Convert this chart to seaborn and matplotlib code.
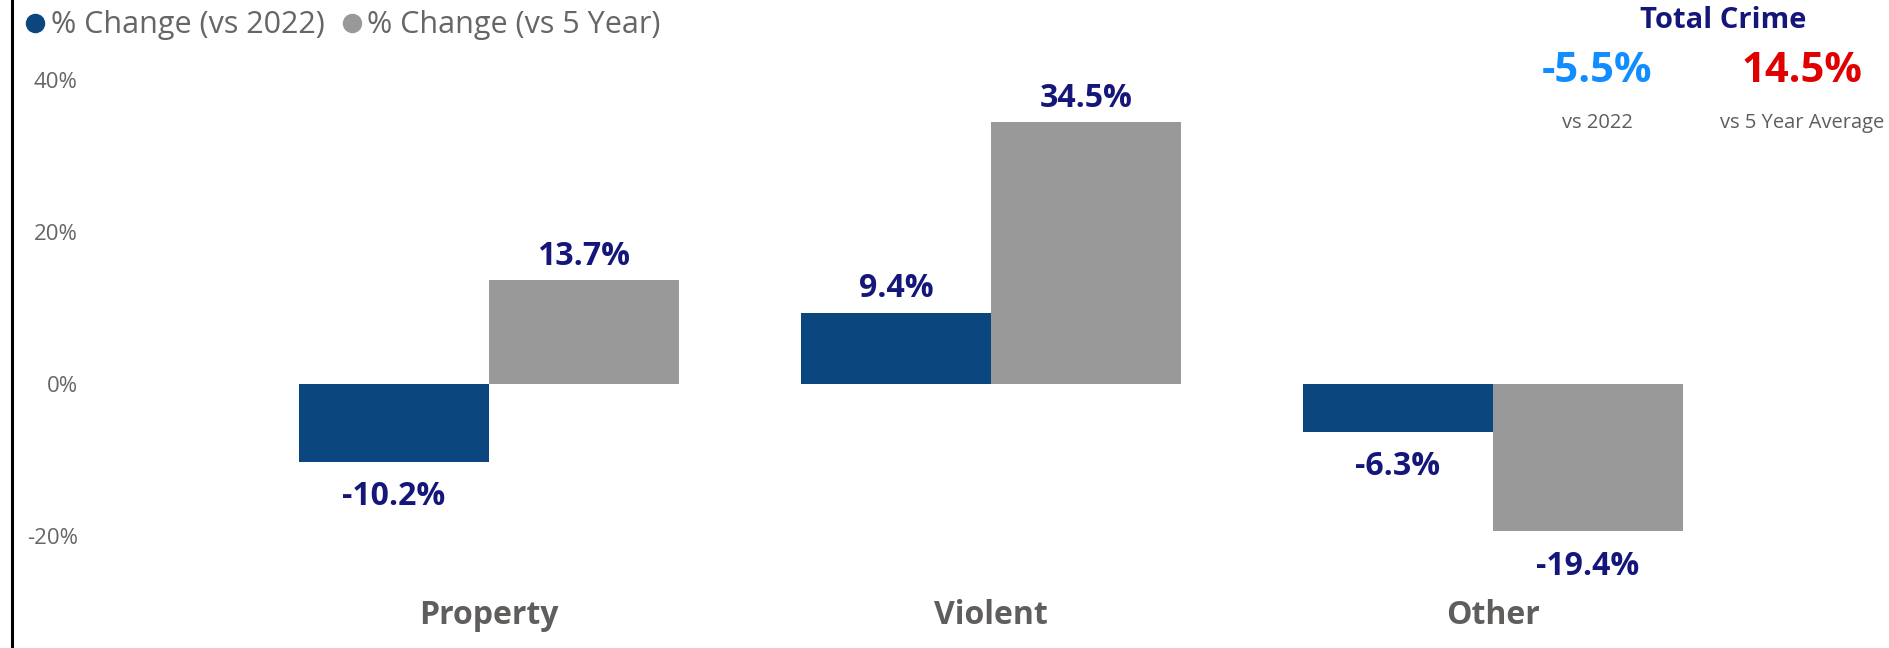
import numpy as np
import pandas as pd
import matplotlib
matplotlib.use("Agg")
import matplotlib.pyplot as plt
import seaborn as sns
from matplotlib.lines import Line2D

# ---- data ----
categories = ["Property", "Violent", "Other"]
series_names = ["% Change (vs 2022)", "% Change (vs 5 Year)"]
vs_2022 = [-10.2, 9.4, -6.3]
vs_5yr = [13.7, 34.5, -19.4]
yticks = [-20, 0, 20, 40]
ytick_labels = ["-20%", "0%", "20%", "40%"]
total_vs_2022 = "-5.5%"
total_vs_5yr = "14.5%"

BLUE = "#0B467F"
GRAY = "#999999"
NAVY = "#141779"
TXT_GRAY = "#666666"
CAT_GRAY = "#605E5C"

df = pd.DataFrame({
    "Category": categories * 2,
    "Series": [series_names[0]] * 3 + [series_names[1]] * 3,
    "Value": vs_2022 + vs_5yr,
})

sns.set_theme(style="white")
plt.rcParams["font.family"] = ["Open Sans", "DejaVu Sans"]

W, H = 1889, 648
fig = plt.figure(figsize=(W / 100, H / 100), dpi=100)
ax_left, ax_right = 100, 1880
ax_top, ax_bot = 60, 575
ax = fig.add_axes([ax_left / W, 1 - ax_bot / H, (ax_right - ax_left) / W, (ax_bot - ax_top) / H])

sns.barplot(data=df, x="Category", y="Value", hue="Series", order=categories,
            hue_order=series_names, palette=[BLUE, GRAY], width=0.757, gap=0,
            saturation=1, legend=False, linewidth=0, ax=ax)

px_per_unit_x = 502
zero_y = 384
px_per_pct = 7.6
ax.set_xlim(-(489 - ax_left) / px_per_unit_x, (ax_right - 489) / px_per_unit_x)
ax.set_ylim(-(ax_bot - zero_y) / px_per_pct, (zero_y - ax_top) / px_per_pct)

for s in ax.spines.values():
    s.set_visible(False)
ax.grid(False)
ax.set_xlabel("")
ax.set_ylabel("")
ax.set_yticks(yticks)
ax.set_yticklabels(ytick_labels, fontsize=16, color=TXT_GRAY)
ax.tick_params(axis="y", length=0, pad=16)
ax.tick_params(axis="x", length=0, pad=17)
for lbl in ax.get_xticklabels():
    lbl.set_fontsize(23)
    lbl.set_fontweight("bold")
    lbl.set_color(CAT_GRAY)

# data labels
values_by_series = [vs_2022, vs_5yr]
for cont, vals in zip(ax.containers, values_by_series):
    for bar, v in zip(cont, vals):
        x = bar.get_x() + bar.get_width() / 2
        off = 17 if v >= 0 else -25
        ax.annotate(f"{v:.1f}%", (x, v), xytext=(0, off), textcoords="offset points",
                    ha="center", va="center", fontsize=23, fontweight="bold", color=NAVY)

# legend
handles = [Line2D([], [], marker="o", linestyle="none", markersize=13, color=BLUE),
           Line2D([], [], marker="o", linestyle="none", markersize=13, color=GRAY)]
leg = fig.legend(handles, series_names, loc="upper left", bbox_to_anchor=(14 / W, 1 + 2 / H),
                 ncol=2, frameon=False, fontsize=22, handlelength=0.6, handletextpad=0.2,
                 columnspacing=0.6, labelcolor=TXT_GRAY, borderaxespad=0)

# KPI card
fig.text(1723 / W, 1 - 20 / H, "Total Crime", ha="center", va="center", fontsize=21,
         fontweight="bold", color=NAVY)
fig.text(1597 / W, 1 - 72 / H, total_vs_2022, ha="center", va="center", fontsize=30,
         fontweight="bold", color="#118DFF")
fig.text(1802 / W, 1 - 72 / H, total_vs_5yr, ha="center", va="center", fontsize=30,
         fontweight="bold", color="#E00000")
fig.text(1597 / W, 1 - 123 / H, "vs 2022", ha="center", va="center", fontsize=14.5, color=CAT_GRAY)
fig.text(1802 / W, 1 - 123 / H, "vs 5 Year Average", ha="center", va="center", fontsize=14.5,
         color=CAT_GRAY)

# left border line
fig.add_artist(Line2D([11.5 / W, 11.5 / W], [0, 1], transform=fig.transFigure, color="black", lw=2.2))

fig.savefig("out.png", dpi=100, facecolor="white")
